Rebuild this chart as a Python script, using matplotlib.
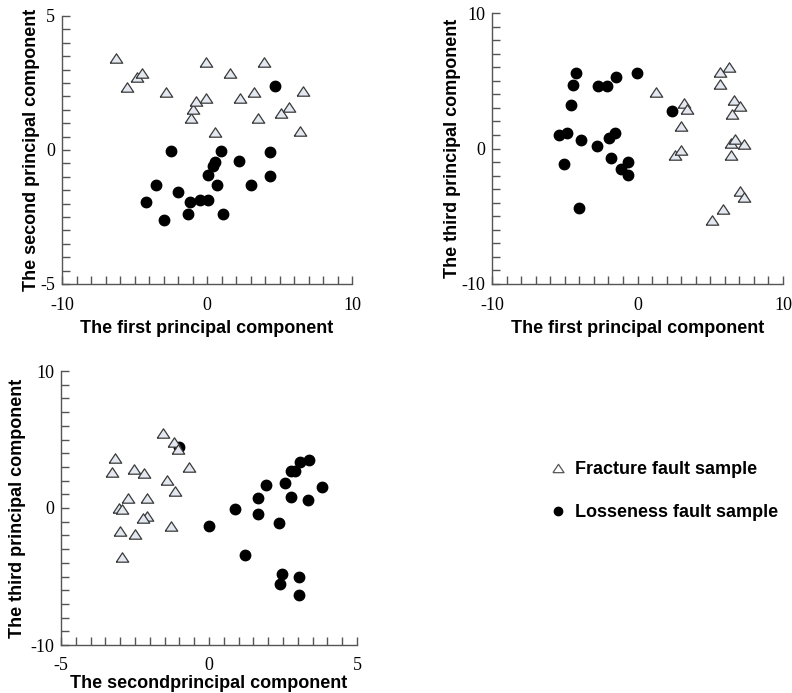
import matplotlib
matplotlib.use('Agg')
import matplotlib.pyplot as plt
import numpy as np
from matplotlib.lines import Line2D
from matplotlib.ticker import MultipleLocator, FixedLocator

# ---- data ----
# panel 1: first vs second principal component
frac_pc1_a = [-6.25, -5.55, -4.86, -4.48, -2.82, -1.07, -1.00, -0.73, -0.09, -0.07,
              0.57, 1.59, 2.27, 3.23, 3.50, 3.93, 5.09, 5.64, 6.39, 6.64]
frac_pc2_a = [3.45, 2.34, 2.71, 2.89, 2.15, 1.18, 1.52, 1.84, 3.28, 1.95,
              0.67, 2.88, 1.95, 2.16, 1.18, 3.28, 1.39, 1.61, 0.72, 2.22]
loose_pc1_a = [-2.50, -3.52, -4.18, -3.00, -1.98, -1.14, -1.30, -0.48, 0.09, 1.07,
               0.09, 0.41, 0.52, 0.95, 0.66, 2.23, 3.02, 4.34, 4.34, 4.68]
loose_pc2_a = [-0.02, -1.30, -1.93, -2.63, -1.55, -1.94, -2.40, -1.88, -1.86, -2.39,
               -0.92, -0.58, -0.43, -0.02, -1.30, -0.40, -1.30, -0.06, -0.96, 2.37]

# panel 2: first vs third principal component
frac_pc1_b = [1.26, 2.59, 2.97, 3.02, 3.20, 3.39, 5.10, 5.86, 5.65, 5.70,
              6.32, 6.61, 7.03, 6.52, 6.43, 6.73, 7.35, 6.41, 7.07, 7.35]
frac_pc3_b = [4.20, -0.48, -0.14, 1.69, 3.37, 2.92, -5.29, -4.48, 4.77, 5.68,
              6.00, 3.59, 3.10, 2.53, 0.43, 0.68, 0.33, -0.51, -3.12, -3.61]
loose_pc1_b = [-5.38, -4.87, -5.08, -4.60, -4.42, -4.23, -3.89, -4.05, -2.77, -2.72,
               -2.11, -1.95, -1.85, -1.56, -1.51, -1.14, -0.64, -0.64, -0.02, 2.36]
loose_pc3_b = [1.02, 1.17, -1.15, 3.24, 4.70, 5.59, 0.63, -4.40, 0.21, 4.58,
               4.60, 0.80, -0.68, 1.17, 5.24, -1.52, -0.97, -1.96, 5.59, 2.80]

# panel 3: second vs third principal component
frac_pc2_c = [-3.18, -3.29, -3.05, -2.94, -2.74, -2.99, -2.93, -2.54, -2.49, -2.19,
              -2.09, -2.11, -2.22, -1.56, -1.42, -1.19, -1.04, -1.14, -1.28, -0.66]
frac_pc3_c = [3.63, 2.60, 0.02, -0.07, 0.75, -1.68, -3.55, 2.87, -1.90, 2.55,
              0.75, -0.58, -0.75, 5.47, 2.07, 4.84, 4.31, 1.24, -1.34, 2.99]
loose_pc2_c = [-1.02, 0.01, 0.89, 1.21, 1.67, 1.65, 1.91, 2.35, 2.39, 2.48,
               2.57, 2.78, 2.77, 2.92, 3.04, 3.04, 3.09, 3.35, 3.39, 3.81]
loose_pc3_c = [4.43, -1.34, -0.05, -3.45, 0.71, -0.41, 1.65, -1.09, -5.52, -4.84,
               1.80, 0.83, 2.70, 2.70, -5.01, -6.35, 3.33, 0.56, 3.48, 1.53]

legend_labels = ['Fracture fault sample', 'Losseness fault sample']

# ---- style ----
tri_marker = [(-1.0, -0.75), (1.0, -0.75), (0.0, 0.75), (-1.0, -0.75)]
tri_face = '#e3e8f1'
tri_edge = '#3a3a3a'
axis_col = '#555555'
label_font = {'family': 'Liberation Sans', 'weight': 'bold', 'size': 13}
tick_font = 'Liberation Serif'
tick_size = 13

fig = plt.figure(figsize=(7.92, 6.93), dpi=100, facecolor='w')

def setup_axes(ax, xlim, ylim, xminor, yminor, xlabel, ylabel, xlpad, ylpad):
    ax.set_xlim(xlim)
    ax.set_ylim(ylim)
    for s in ['top', 'right']:
        ax.spines[s].set_visible(False)
    for s in ['left', 'bottom']:
        ax.spines[s].set_color(axis_col)
        ax.spines[s].set_linewidth(1.0)
    ax.xaxis.set_major_locator(FixedLocator([xlim[0], 0, xlim[1]]))
    ax.yaxis.set_major_locator(FixedLocator([ylim[0], 0, ylim[1]]))
    ax.xaxis.set_minor_locator(MultipleLocator(xminor))
    ax.yaxis.set_minor_locator(MultipleLocator(yminor))
    ax.set_xticklabels(['%g' % xlim[0], '0', '%g' % xlim[1]])
    ax.set_yticklabels(['%g' % ylim[0], '0', '%g' % ylim[1]])
    ax.tick_params(which='both', direction='in', length=6, width=1.0, color=axis_col)
    ax.tick_params(axis='x', pad=9)
    ax.tick_params(axis='y', pad=5)
    for t in ax.get_xticklabels() + ax.get_yticklabels():
        t.set_fontfamily(tick_font)
        t.set_fontsize(tick_size)
    ax.set_xlabel(xlabel, fontdict=label_font, labelpad=xlpad)
    ax.set_ylabel(ylabel, fontdict=label_font, labelpad=ylpad)

def draw(ax, fx, fy, lx, ly, circle_first=False):
    kw_c = dict(marker='o', ls='none', ms=7.5, mfc='k', mec='k', clip_on=False)
    kw_t = dict(marker=tri_marker, ls='none', ms=9, mfc=tri_face, mec=tri_edge,
                mew=0.9, clip_on=False)
    if circle_first:
        ax.plot(lx, ly, **kw_c)
        ax.plot(fx, fy, **kw_t)
    else:
        ax.plot(fx, fy, **kw_t)
        ax.plot(lx, ly, **kw_c)

ax1 = fig.add_axes([62/792, 1-284/693, 290/792, 268/693])
draw(ax1, frac_pc1_a, frac_pc2_a, loose_pc1_a, loose_pc2_a)
setup_axes(ax1, (-10, 10), (-5, 5), 1, 0.5,
           'The first principal component', 'The second principal component', 5, 0)

ax2 = fig.add_axes([492/792, 1-284/693, 291/792, 271/693])
draw(ax2, frac_pc1_b, frac_pc3_b, loose_pc1_b, loose_pc3_b)
setup_axes(ax2, (-10, 10), (-10, 10), 1, 1,
           'The first principal component', 'The third principal component', 5, 0)

ax3 = fig.add_axes([61/792, 1-645/693, 296/792, 274/693])
draw(ax3, frac_pc2_c, frac_pc3_c, loose_pc2_c, loose_pc3_c, circle_first=True)
setup_axes(ax3, (-5, 5), (-10, 10), 0.5, 1,
           'The secondprincipal component', 'The third principal component', 0, 3)

# legend
handles = [Line2D([], [], marker=tri_marker, ls='none', ms=8, mfc='w', mec='#555555', mew=0.9),
           Line2D([], [], marker='o', ls='none', ms=6, mfc='k', mec='k')]
fig.legend(handles, legend_labels, loc='upper left', bbox_to_anchor=(533/792, 1-445/693),
           frameon=False, handlelength=1.0, handletextpad=0.45, labelspacing=1.45,
           prop={'family': 'Liberation Sans', 'weight': 'bold', 'size': 13})

fig.savefig('out.png', dpi=100)
